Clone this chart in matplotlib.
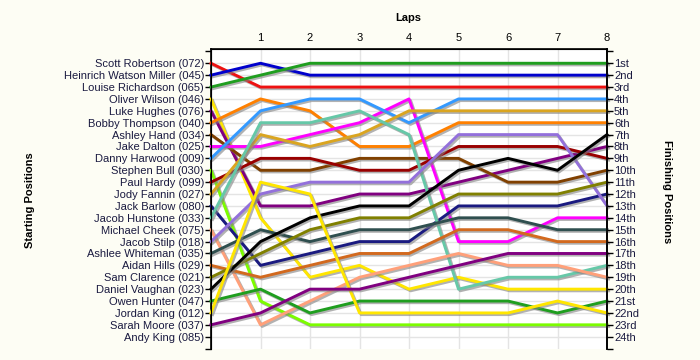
import matplotlib.pyplot as plt
import matplotlib.patheffects as pe

# laps on the top axis
laps = [0, 1, 2, 3, 4, 5, 6, 7, 8]

# starting grid, top to bottom
drivers = ['Scott Robertson (072)', 'Heinrich Watson Miller (045)', 'Louise Richardson (065)',
           'Oliver Wilson (046)', 'Luke Hughes (076)', 'Bobby Thompson (040)',
           'Ashley Hand (034)', 'Jake Dalton (025)', 'Danny Harwood (009)',
           'Stephen Bull (030)', 'Paul Hardy (099)', 'Jody Fannin (027)',
           'Jack Barlow (080)', 'Jacob Hunstone (033)', 'Michael Cheek (075)',
           'Jacob Stilp (018)', 'Ashlee Whiteman (035)', 'Aidan Hills (029)',
           'Sam Clarence (021)', 'Daniel Vaughan (023)', 'Owen Hunter (047)',
           'Jordan King (012)', 'Sarah Moore (037)', 'Andy King (085)']

finish_labels = ['1st', '2nd', '3rd', '4th', '5th', '6th', '7th', '8th', '9th', '10th',
                 '11th', '12th', '13th', '14th', '15th', '16th', '17th', '18th', '19th',
                 '20th', '21st', '22nd', '23rd', '24th']

# position of each driver after each lap (Andy King has no data)
positions = [
    [1, 3, 3, 3, 3, 3, 3, 3, 3],
    [2, 1, 2, 2, 2, 2, 2, 2, 2],
    [3, 2, 1, 1, 1, 1, 1, 1, 1],
    [4, 14, 19, 18, 20, 19, 20, 20, 20],
    [5, 13, 13, 12, 12, 11, 10, 9, 8],
    [6, 4, 5, 8, 8, 6, 6, 6, 6],
    [7, 10, 10, 9, 9, 9, 11, 11, 10],
    [8, 8, 7, 6, 4, 16, 16, 14, 14],
    [9, 5, 4, 4, 6, 4, 4, 4, 4],
    [10, 21, 23, 23, 23, 23, 23, 23, 23],
    [11, 9, 9, 10, 10, 8, 8, 8, 9],
    [12, 7, 8, 7, 5, 5, 5, 5, 5],
    [13, 18, 17, 16, 16, 13, 13, 13, 12],
    [14, 6, 6, 5, 7, 20, 19, 19, 18],
    [15, 23, 21, 19, 18, 17, 18, 18, 19],
    [16, 12, 11, 11, 11, 7, 7, 7, 13],
    [17, 15, 16, 15, 15, 14, 14, 15, 15],
    [18, 19, 18, 17, 17, 15, 15, 16, 16],
    [19, 17, 15, 14, 14, 12, 12, 12, 11],
    [20, 16, 14, 13, 13, 10, 9, 10, 7],
    [21, 20, 22, 21, 21, 21, 21, 22, 21],
    [22, 11, 12, 22, 22, 22, 22, 21, 22],
    [23, 22, 20, 20, 19, 18, 17, 17, 17],
]

colors = ['#ee1111', '#0000cc', '#1f9e1f', '#ffe600', '#800080', '#ff8000', '#804000',
          '#ff00ff', '#3399ff', '#7cfc00', '#990000', '#daa520', '#1a1a80', '#66c8a8',
          '#ffa07a', '#9370db', '#2f4f4f', '#d2691e', '#808000', '#000000', '#1f9e1f',
          '#ffe600', '#800080']

plt.rcParams['font.family'] = ['Liberation Sans', 'DejaVu Sans']
plt.rcParams['font.size'] = 8

bg = '#fdfdf4'
fig = plt.figure(figsize=(7, 3.6), dpi=100, facecolor=bg)
ax = fig.add_axes([211 / 700, 1 - 348.6 / 360, 396 / 700, 299.6 / 360])
ax.set_facecolor('white')

shadow = [pe.SimpleLineShadow(offset=(1.2, -1.2), shadow_color='gray', alpha=0.6), pe.Normal()]
for pos, c in zip(positions, colors):
    ax.plot(laps, pos, color=c, lw=2.1, path_effects=shadow, clip_on=False, zorder=3)

ax.set_xlim(0, 8)
ax.set_ylim(25, -0.2)

ax.xaxis.tick_top()
ax.set_xticks(laps)
ax.set_xticklabels([''] + [str(l) for l in laps[1:]])
ax.set_yticks(range(1, 25))
ax.set_yticklabels(drivers)
ax.set_yticks([0, 25], minor=True)
ax.tick_params(axis='y', which='both', length=4, width=1, pad=1, labelcolor='#1a1a40')
ax.tick_params(axis='x', length=0, pad=4)
ax.grid(True, color='#e4e4e4', lw=1, zorder=0)
ax.set_axisbelow(True)
ax.spines['bottom'].set_visible(False)
for s in ['top', 'left', 'right']:
    ax.spines[s].set_linewidth(1.2)

ax2 = ax.twinx()
ax2.set_ylim(25, -0.2)
ax2.set_yticks(range(1, 25))
ax2.set_yticklabels(finish_labels)
ax2.set_yticks([0, 25], minor=True)
ax2.tick_params(axis='y', which='both', length=4, width=1, pad=1, labelcolor='#1a1a40')
ax2.spines['bottom'].set_visible(False)
ax2.spines['right'].set_linewidth(1.2)

fig.text(408 / 700, 1 - 18 / 360, 'Laps', ha='center', va='center', weight='bold')
fig.text(30 / 700, 1 - 200 / 360, 'Starting Positions', ha='center', va='center',
         rotation=90, weight='bold')
fig.text(667 / 700, 1 - 192 / 360, 'Finishing Positions', ha='center', va='center',
         rotation=270, weight='bold')

fig.savefig('out.png', dpi=100, facecolor=bg)
